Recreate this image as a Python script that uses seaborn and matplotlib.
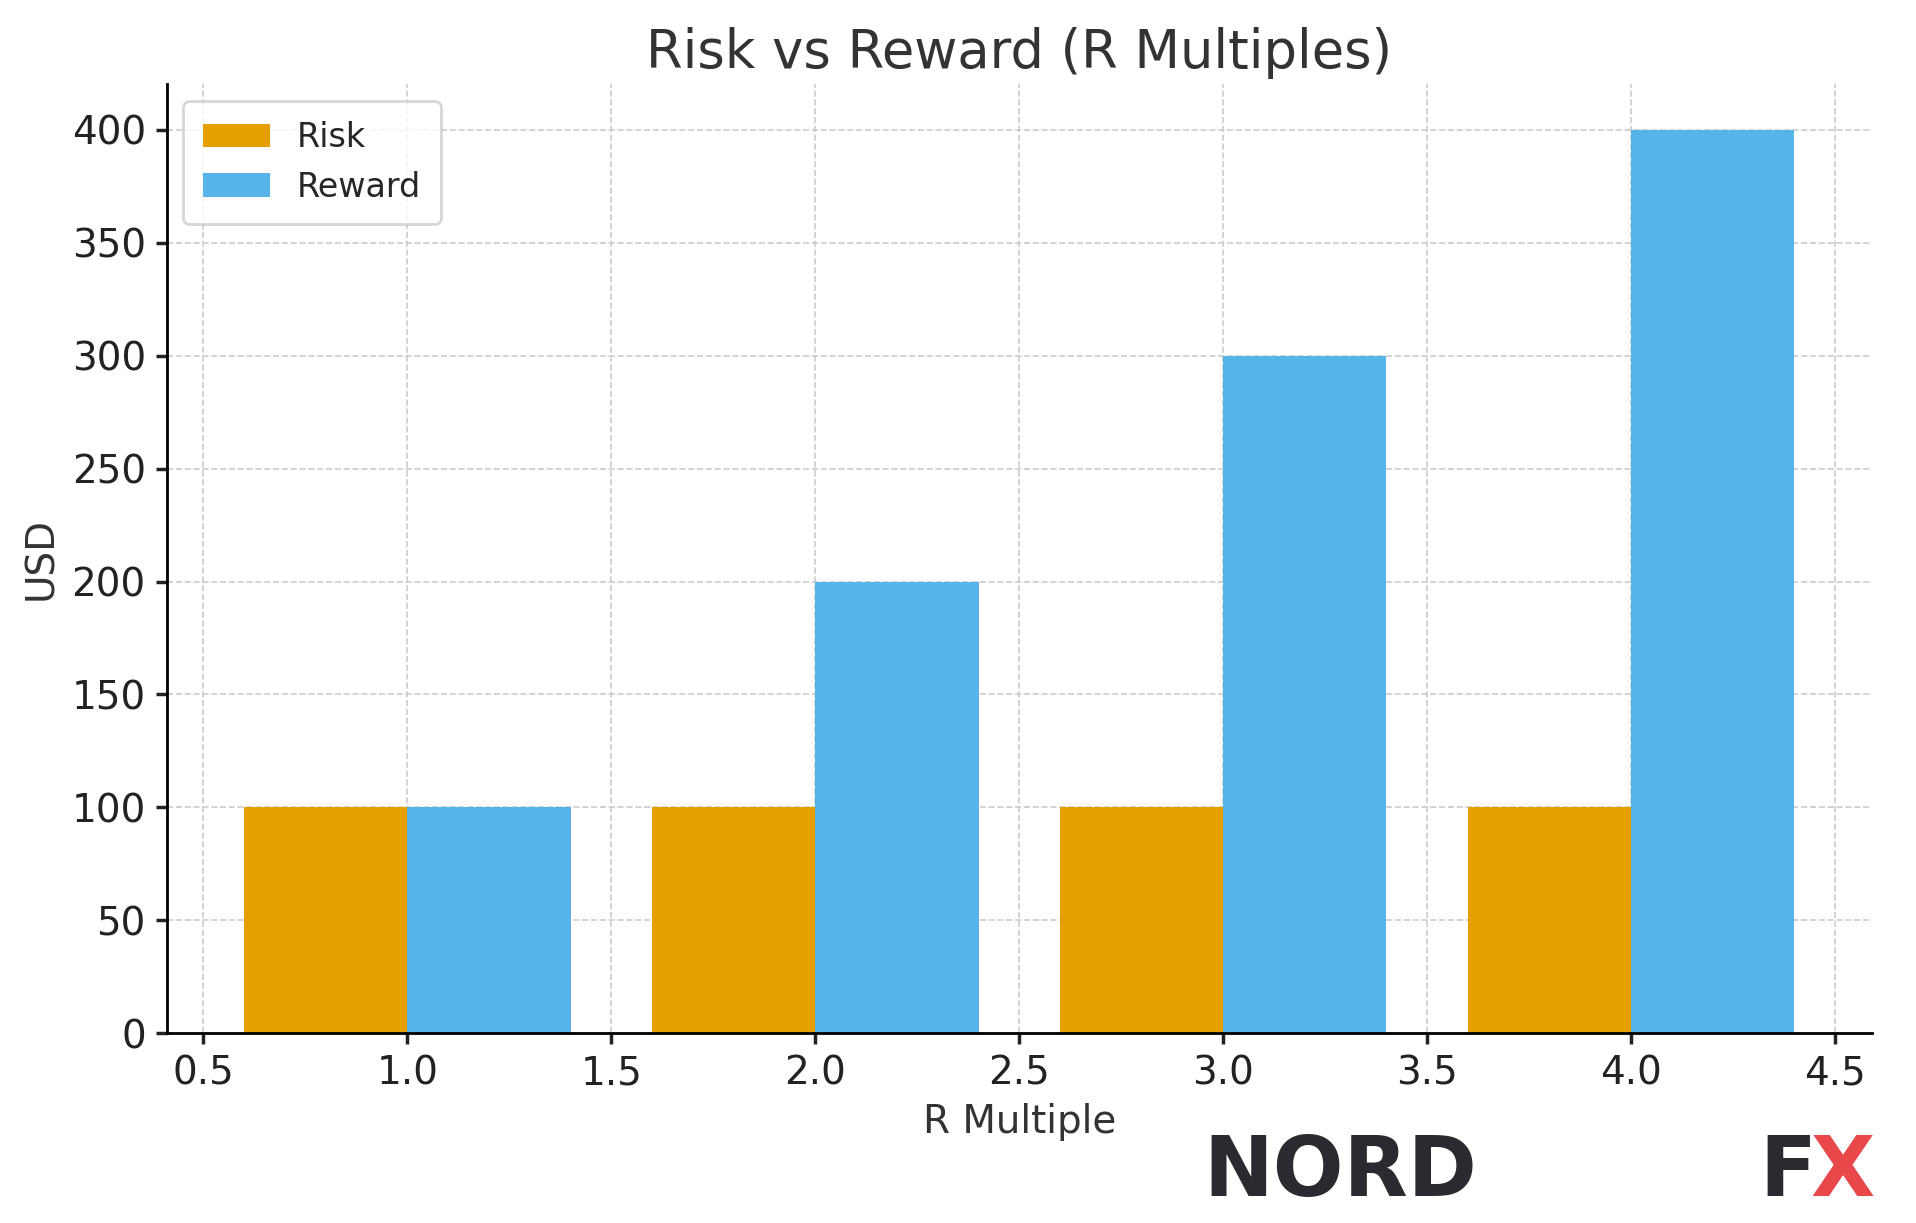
import matplotlib
matplotlib.use("Agg")
import matplotlib.pyplot as plt
import seaborn as sns

r_multiples = [1, 2, 3, 4]
risk = [100, 100, 100, 100]
reward = [100, 200, 300, 400]

sns.set_theme(style="white")
fig = plt.figure(figsize=(9.58, 6.115), dpi=200)
ax = fig.add_axes([0.087, 0.155, 0.89, 0.776])
ax.bar(r_multiples, risk, width=-0.4, align="edge", color="#E69F00", label="Risk", zorder=2, linewidth=0)
ax.bar(r_multiples, reward, width=0.4, align="edge", color="#56B4E9", label="Reward", zorder=2, linewidth=0)
ax.set_xlim(0.41, 4.59)
ax.set_ylim(0, 420)
ax.set_xticks([0.5, 1.0, 1.5, 2.0, 2.5, 3.0, 3.5, 4.0, 4.5])
ax.grid(True, linestyle="--", color="#cccccc", linewidth=0.6, zorder=0)
for s in ["top", "right"]:
    ax.spines[s].set_visible(False)
for s in ["left", "bottom"]:
    ax.spines[s].set_color("black")
    ax.spines[s].set_linewidth(1.0)
ax.tick_params(axis="both", labelsize=14, colors="#222222", length=4, left=True, bottom=True)
ax.set_xlabel("R Multiple", fontsize=14, color="#333333")
ax.set_ylabel("USD", fontsize=14, color="#333333")
ax.set_title("Risk vs Reward (R Multiples)", fontsize=19, color="#333333")
ax.legend(loc="upper left", fontsize=12, frameon=True, edgecolor="#cccccc", borderpad=0.6)
fig.text(0.628, 0.022, "NORD", fontsize=30, fontweight="heavy", color="#2a2a30", family="DejaVu Sans")
fig.text(0.918, 0.022, "F", fontsize=30, fontweight="heavy", color="#2a2a30", family="DejaVu Sans")
fig.text(0.945, 0.022, "X", fontsize=30, fontweight="heavy", color="#e8484a", family="DejaVu Sans")
fig.savefig("out.png", dpi=200)
